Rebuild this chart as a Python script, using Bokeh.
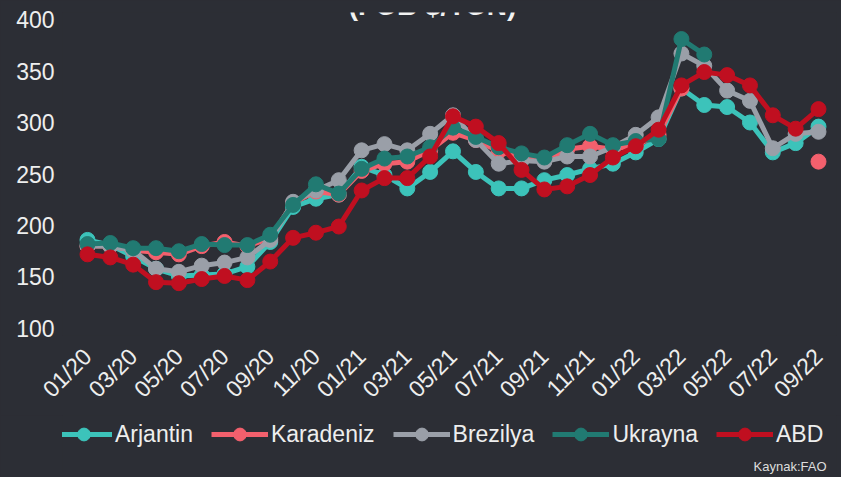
import numpy as np
from bokeh.plotting import figure
from bokeh.layouts import column
from bokeh.models import ColumnDataSource, Range1d, FixedTicker, Legend, LegendItem, Label
from bokeh.embed import file_html
from bokeh.resources import INLINE

months = ["01/20", "02/20", "03/20", "04/20", "05/20", "06/20", "07/20", "08/20",
          "09/20", "10/20", "11/20", "12/20", "01/21", "02/21", "03/21", "04/21",
          "05/21", "06/21", "07/21", "08/21", "09/21", "10/21", "11/21", "12/21",
          "01/22", "02/22", "03/22", "04/22", "05/22", "06/22", "07/22", "08/22", "09/22"]

arjantin = [186, 181, 170, 158, 151, 152, 153, 160, 184, 218, 226, 230, 257, 249, 236, 252,
            272, 252, 236, 236, 244, 249, 255, 260, 271, 284, 333, 317, 315, 300, 271, 280, 296]
karadeniz = [180, 180, 176, 174, 172, 180, 184, 180, 188, 222, 233, 230, 253, 260, 262, 273,
             290, 283, 272, 266, 263, 274, 277, 274, 278, 288, 333, None, None, None, None, None, 262]
brezilya = [180, 180, 176, 158, 155, 161, 164, 169, 186, 223, 234, 244, 273, 279, 273, 289,
            307, 283, 260, 263, 262, 267, 267, 276, 288, 305, 367, 355, 331, 321, 275, 289, 291]
ukrayna = [182, 183, 178, 178, 175, 182, 181, 181, 191, 220, 240, 231, 255, 265, 267, 276,
           295, 286, 276, 270, 266, 278, 289, 278, 282, 284, 381, 366, None, None, None, None, None]
abd = [172, 169, 162, 145, 144, 148, 151, 147, 165, 188, 193, 199, 234, 246, 246, 267,
       306, 296, 280, 254, 235, 238, 249, 266, 277, 293, 336, 349, 346, 336, 307, 294, 313]

series_names = ["Arjantin", "Karadeniz", "Brezilya", "Ukrayna", "ABD"]
series_values = [arjantin, karadeniz, brezilya, ukrayna, abd]
series_colors = ["#3CC3BA", "#F3606D", "#9A9FA8", "#217A72", "#C00F20"]

y_ticks = [100, 150, 200, 250, 300, 350, 400]

BG = "#2C2E35"
TXT = "#EEEEEE"
FONT = "Liberation Sans"

# main chart
p = figure(width=841, height=415, output_backend="svg", toolbar_location=None,
           x_range=Range1d(-1.094, 32.788), y_range=Range1d(93.2, 406.8),
           min_border_left=62, min_border_right=5, min_border_top=12, min_border_bottom=80)
p.background_fill_color = BG
p.border_fill_color = BG
p.outline_line_color = None
p.grid.visible = False

# legend strip (frame is aligned with the main chart's frame by the column layout)
q = figure(width=841, height=62, output_backend="svg", toolbar_location=None,
           x_range=Range1d(0, 1), y_range=Range1d(0, 1),
           x_axis_location=None, y_axis_location=None,
           min_border_left=62, min_border_right=5, min_border_top=0, min_border_bottom=0)
q.background_fill_color = BG
q.border_fill_color = BG
q.outline_line_color = None
q.grid.visible = False

xs = list(range(len(months)))
items = []
for name, vals, col in zip(series_names, series_values, series_colors):
    y = np.array([np.nan if v is None else v for v in vals], dtype=float)
    src = ColumnDataSource(dict(x=xs, y=y))
    p.line("x", "y", source=src, line_color=col, line_width=5)
    p.scatter("x", "y", source=src, size=15, fill_color=col, line_color=col)
    # same series in the strip, outside its view: only used for the legend glyphs
    lr = q.line("x", "y", source=src, line_color=col, line_width=5)
    sr = q.scatter("x", "y", source=src, size=15, fill_color=col, line_color=col)
    items.append(LegendItem(label=name, renderers=[lr, sr]))

p.xaxis.ticker = FixedTicker(ticks=xs[::2])
p.xaxis.major_label_overrides = {i: months[i] for i in xs[::2]}
p.xaxis.major_label_orientation = np.pi / 4
p.yaxis.ticker = FixedTicker(ticks=y_ticks)
for ax in (p.xaxis, p.yaxis):
    ax.axis_line_color = None
    ax.major_tick_line_color = None
    ax.minor_tick_line_color = None
    ax.major_tick_out = 0
    ax.major_tick_in = 0
    ax.minor_tick_out = 0
    ax.major_label_text_color = TXT
    ax.major_label_text_font = FONT
    ax.major_label_text_font_size = "23px"
p.yaxis.major_label_standoff = 8
p.xaxis.major_label_standoff = 17

p.add_layout(Label(x=370, y=330, x_units="screen", y_units="screen", text="(FOB $/TON)",
                   text_align="center", text_baseline="alphabetic", text_font=FONT,
                   text_font_size="28px", text_font_style="bold", text_color="#F2F2F2"))

legend = Legend(items=items, orientation="horizontal", location=(-7, 27),
                glyph_width=57, glyph_height=32, label_standoff=3, spacing=18,
                padding=0, margin=0, label_text_font=FONT, label_text_font_size="23px",
                label_text_color=TXT, background_fill_alpha=0, border_line_color=None)
q.add_layout(legend, "center")

q.add_layout(Label(x=764, y=11, x_units="screen", y_units="screen", text="Kaynak:FAO",
                   text_align="right", text_baseline="alphabetic", text_font=FONT,
                   text_font_size="13px", text_color="#DDDDDD"))

layout = column(p, q, spacing=0)
layout.styles = {"background-color": BG}

html = file_html(layout, INLINE, title="Chart")
html = html.replace("<head>", "<head><style>html,body{margin:0;padding:0;background:%s;overflow:hidden}</style>" % BG, 1)
open("out.html", "w").write(html)
